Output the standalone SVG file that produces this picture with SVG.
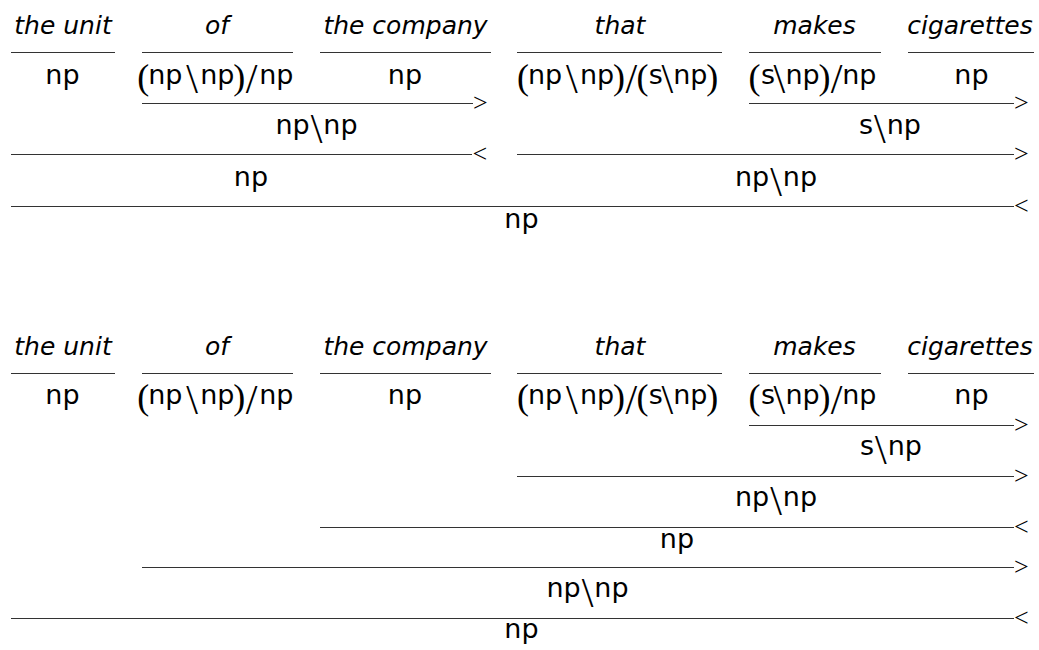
<svg xmlns="http://www.w3.org/2000/svg" width="1039" height="650" viewBox="0 0 1039 650">
  <style>
    .w { font-family: "DejaVu Sans", "Liberation Sans", sans-serif; font-style: italic; font-size: 25px; text-anchor: middle; fill: #000; }
    .c { font-family: "DejaVu Sans", "Liberation Sans", sans-serif; font-size: 27px; fill: #000; }
    .m { text-anchor: middle; }
    .op { font-family: "Liberation Serif", "DejaVu Serif", serif; font-size: 36px; }
    .bs { font-family: "Liberation Serif", "DejaVu Serif", serif; font-size: 42px; }
    .r { stroke: #333; stroke-width: 1.2; fill: none; }
    .sym { font-family: "Liberation Serif", "DejaVu Serif", serif; font-size: 26px; fill: #000; }
  </style>
  <rect width="1039" height="650" fill="#fff"/>

  <!-- Derivation 1: "of the company" combines first -->
  <g id="derivation-a">
    <g id="a-lex-the-unit">
      <text class="w" x="63" y="33.5">the unit</text>
      <line class="r" x1="11" y1="52.5" x2="115" y2="52.5"/>
      <text class="c m" x="62.5" y="83.5">np</text>
    </g>
    <g id="a-lex-of">
      <text class="w" x="217" y="33.5">of</text>
      <line class="r" x1="142" y1="52.5" x2="293" y2="52.5"/>
      <text class="c" x="137.2 148.3 165.3 186.15 200.3 217.3 233.3 245.65 259.3 276.3" y="83.5" dy="5 -5 0 9.5 -9.5 0 5 4.5 -9.5 0"><tspan class="op">(</tspan>np<tspan class="bs">\</tspan>np<tspan class="op">)</tspan><tspan class="bs">/</tspan>np</text>
    </g>
    <g id="a-lex-the-company">
      <text class="w" x="405.5" y="33.5">the company</text>
      <line class="r" x1="320" y1="52.5" x2="491" y2="52.5"/>
      <text class="c m" x="405" y="83.5">np</text>
    </g>
    <g id="a-lex-that">
      <text class="w" x="620" y="33.5">that</text>
      <line class="r" x1="517" y1="52.5" x2="722" y2="52.5"/>
      <text class="c" x="517 528.1 545.1 565.95 580.1 597.1 613.1 625.45 636.5 648.8 661.45 673.3 690.3 706.3" y="83.5" dy="5 -5 0 9.5 -9.5 0 5 4.5 -4.5 -5 9.5 -9.5 0 5"><tspan class="op">(</tspan>np<tspan class="bs">\</tspan>np<tspan class="op">)</tspan><tspan class="bs">/</tspan><tspan class="op">(</tspan>s<tspan class="bs">\</tspan>np<tspan class="op">)</tspan></text>
    </g>
    <g id="a-lex-makes">
      <text class="w" x="814.5" y="33.5">makes</text>
      <line class="r" x1="749" y1="52.5" x2="881" y2="52.5"/>
      <text class="c" x="748.6 760.95 773.6 785.45 802.45 818.45 830.8 842.35 859.35" y="83.5" dy="5 -5 9.5 -9.5 0 5 4.5 -9.5 0"><tspan class="op">(</tspan>s<tspan class="bs">\</tspan>np<tspan class="op">)</tspan><tspan class="bs">/</tspan>np</text>
    </g>
    <g id="a-lex-cigarettes">
      <text class="w" x="970" y="33.5">cigarettes</text>
      <line class="r" x1="908" y1="52.5" x2="1034" y2="52.5"/>
      <text class="c m" x="971.5" y="83.5">np</text>
    </g>

    <g id="a-rules">
      <g id="a-step-1">
        <line class="r" x1="142" y1="103.5" x2="473" y2="103.5"/>
        <text class="sym" x="473" y="110.8">&gt;</text>
        <text class="c m" x="316.5" y="133.5">np<tspan class="bs" dx="1" dy="9.5">\</tspan><tspan dx="1" dy="-9.5">np</tspan></text>
      </g>
      <g id="a-step-2">
        <line class="r" x1="749" y1="103.5" x2="1014" y2="103.5"/>
        <text class="sym" x="1014" y="110.8">&gt;</text>
        <text class="c m" x="890" y="133.5">s<tspan class="bs" dx="1" dy="9.5">\</tspan><tspan dx="1" dy="-9.5">np</tspan></text>
      </g>
      <g id="a-step-3">
        <line class="r" x1="11" y1="154.5" x2="472" y2="154.5"/>
        <text class="sym" x="472.5" y="161.8">&lt;</text>
        <text class="c m" x="251" y="186">np</text>
      </g>
      <g id="a-step-4">
        <line class="r" x1="517" y1="154.5" x2="1014" y2="154.5"/>
        <text class="sym" x="1014" y="161.8">&gt;</text>
        <text class="c m" x="776" y="186">np<tspan class="bs" dx="1" dy="9.5">\</tspan><tspan dx="1" dy="-9.5">np</tspan></text>
      </g>
      <g id="a-step-5">
        <line class="r" x1="11" y1="206.5" x2="1014" y2="206.5"/>
        <text class="sym" x="1014" y="213.8">&lt;</text>
        <text class="c m" x="521.5" y="228">np</text>
      </g>
    </g>
  </g>

  <!-- Derivation 2: the relative clause attaches to "the company" -->
  <g id="derivation-b">
    <g id="b-lex-the-unit">
      <text class="w" x="63" y="354.5">the unit</text>
      <line class="r" x1="11" y1="373.5" x2="115" y2="373.5"/>
      <text class="c m" x="62.5" y="404">np</text>
    </g>
    <g id="b-lex-of">
      <text class="w" x="217" y="354.5">of</text>
      <line class="r" x1="142" y1="373.5" x2="293" y2="373.5"/>
      <text class="c" x="137.2 148.3 165.3 186.15 200.3 217.3 233.3 245.65 259.3 276.3" y="404" dy="5 -5 0 9.5 -9.5 0 5 4.5 -9.5 0"><tspan class="op">(</tspan>np<tspan class="bs">\</tspan>np<tspan class="op">)</tspan><tspan class="bs">/</tspan>np</text>
    </g>
    <g id="b-lex-the-company">
      <text class="w" x="405.5" y="354.5">the company</text>
      <line class="r" x1="320" y1="373.5" x2="491" y2="373.5"/>
      <text class="c m" x="405" y="404">np</text>
    </g>
    <g id="b-lex-that">
      <text class="w" x="620" y="354.5">that</text>
      <line class="r" x1="517" y1="373.5" x2="722" y2="373.5"/>
      <text class="c" x="517 528.1 545.1 565.95 580.1 597.1 613.1 625.45 636.5 648.8 661.45 673.3 690.3 706.3" y="404" dy="5 -5 0 9.5 -9.5 0 5 4.5 -4.5 -5 9.5 -9.5 0 5"><tspan class="op">(</tspan>np<tspan class="bs">\</tspan>np<tspan class="op">)</tspan><tspan class="bs">/</tspan><tspan class="op">(</tspan>s<tspan class="bs">\</tspan>np<tspan class="op">)</tspan></text>
    </g>
    <g id="b-lex-makes">
      <text class="w" x="814.5" y="354.5">makes</text>
      <line class="r" x1="749" y1="373.5" x2="881" y2="373.5"/>
      <text class="c" x="748.6 760.95 773.6 785.45 802.45 818.45 830.8 842.35 859.35" y="404" dy="5 -5 9.5 -9.5 0 5 4.5 -9.5 0"><tspan class="op">(</tspan>s<tspan class="bs">\</tspan>np<tspan class="op">)</tspan><tspan class="bs">/</tspan>np</text>
    </g>
    <g id="b-lex-cigarettes">
      <text class="w" x="970" y="354.5">cigarettes</text>
      <line class="r" x1="908" y1="373.5" x2="1034" y2="373.5"/>
      <text class="c m" x="971.5" y="404">np</text>
    </g>

    <g id="b-rules">
      <g id="b-step-1">
        <line class="r" x1="749" y1="425.5" x2="1014" y2="425.5"/>
        <text class="sym" x="1014" y="432.8">&gt;</text>
        <text class="c m" x="891" y="454.5">s<tspan class="bs" dx="1" dy="9.5">\</tspan><tspan dx="1" dy="-9.5">np</tspan></text>
      </g>
      <g id="b-step-2">
        <line class="r" x1="517" y1="476.5" x2="1014" y2="476.5"/>
        <text class="sym" x="1014" y="483.8">&gt;</text>
        <text class="c m" x="776" y="505.5">np<tspan class="bs" dx="1" dy="9.5">\</tspan><tspan dx="1" dy="-9.5">np</tspan></text>
      </g>
      <g id="b-step-3">
        <line class="r" x1="320" y1="527.5" x2="1014" y2="527.5"/>
        <text class="sym" x="1014" y="534.8">&lt;</text>
        <text class="c m" x="677" y="548">np</text>
      </g>
      <g id="b-step-4">
        <line class="r" x1="142" y1="567.5" x2="1014" y2="567.5"/>
        <text class="sym" x="1014" y="574.8">&gt;</text>
        <text class="c m" x="587.5" y="597">np<tspan class="bs" dx="1" dy="9.5">\</tspan><tspan dx="1" dy="-9.5">np</tspan></text>
      </g>
      <g id="b-step-5">
        <line class="r" x1="11" y1="618.5" x2="1014" y2="618.5"/>
        <text class="sym" x="1014" y="625.8">&lt;</text>
        <text class="c m" x="521.5" y="638">np</text>
      </g>
    </g>
  </g>
</svg>
